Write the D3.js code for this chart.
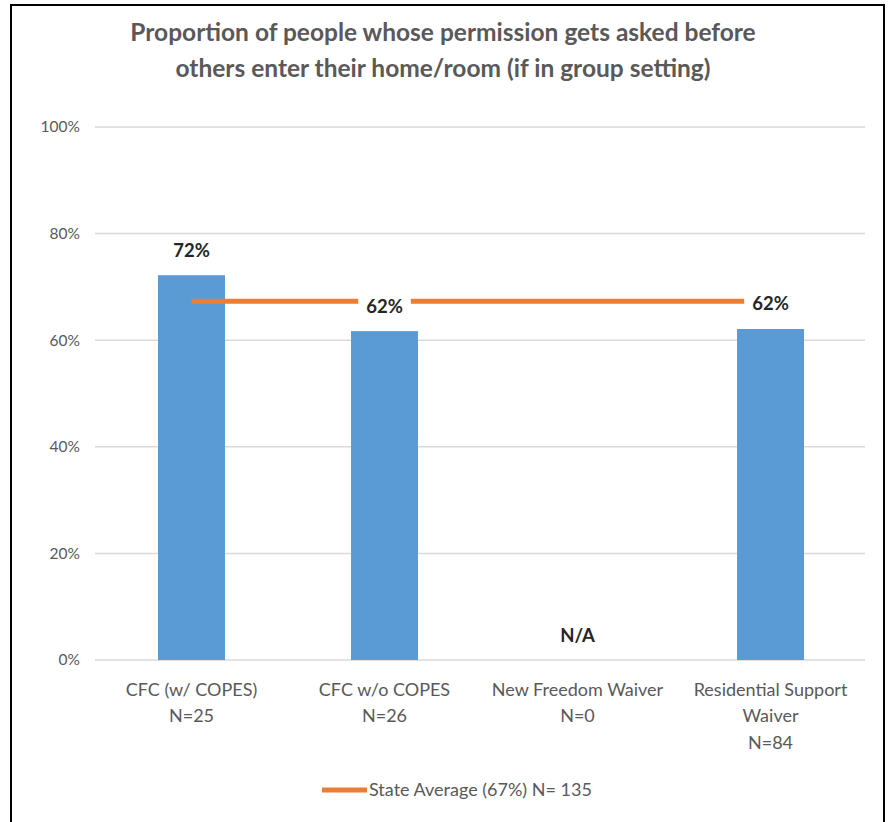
<!DOCTYPE html>
<html><head><meta charset="utf-8">
<script src="https://cdn.jsdelivr.net/npm/d3@7"></script>
<style>body{margin:0;background:#fff}svg{display:block}</style>
</head><body>
<svg id="c" width="892" height="822"></svg>
<script>
const categories = [["CFC (w/ COPES)","N=25"],["CFC w/o COPES","N=26"],["New Freedom Waiver","N=0"],["Residential Support","Waiver","N=84"]];
const values = [0.722, 0.617, null, 0.621];
const valueLabels = ["72%","62%","N/A","62%"];
const stateAverage = 0.673;
const yTicks = [0,0.2,0.4,0.6,0.8,1.0];
const titleLines = ["Proportion of people whose permission gets asked before","others enter their home/room (if in group setting)"];
const legendLabel = "State Average (67%) N= 135";

(function(){
const svg = d3.select("#c");
const font = "Lato, 'Open Sans', sans-serif";
const grey = "#595959";
svg.append("rect").attr("x",11).attr("y",5).attr("width",873).attr("height",830)
  .attr("fill","#fff").attr("stroke","#000").attr("stroke-width",2);

const pl=95, pr=867, pt=127, pb=660;
const x = d3.scaleBand().domain(d3.range(categories.length)).range([pl,pr]).paddingInner(0.653).paddingOuter(0.3265);
const y = d3.scaleLinear().domain([0,1]).range([pb,pt]);

svg.selectAll("text.title").data(titleLines).join("text")
  .attr("x",443).attr("y",(d,i)=>41+i*36).attr("text-anchor","middle")
  .attr("font-family",font).attr("font-weight","bold").attr("font-size",24.5).attr("fill",grey).text(d=>d);

const g = svg.append("g");
g.selectAll("line.grid").data(yTicks).join("line")
  .attr("x1",pl).attr("x2",865).attr("y1",d=>y(d)).attr("y2",d=>y(d))
  .attr("stroke","#D9D9D9").attr("stroke-width",1.5);
const yAxis = d3.axisLeft(y).tickValues(yTicks).tickFormat(d3.format(".0%")).tickSize(0).tickPadding(15);
const ya = svg.append("g").attr("transform",`translate(${pl},0)`).call(yAxis);
ya.select(".domain").remove();
ya.selectAll("text").attr("font-family",font).attr("font-size",15.5).attr("fill",grey);

const cx = i => x(i)+x.bandwidth()/2;
g.selectAll("rect.bar").data(values.map((v,i)=>({v,i})).filter(d=>d.v!=null)).join("rect")
  .attr("x",d=>x(d.i)).attr("width",x.bandwidth()).attr("y",d=>y(d.v)).attr("height",d=>pb-y(d.v))
  .attr("fill","#5B9BD5");

g.append("line").attr("x1",cx(0)).attr("x2",cx(3)).attr("y1",y(stateAverage)).attr("y2",y(stateAverage))
  .attr("stroke","#ED7D31").attr("stroke-width",5);

values.forEach((v,i)=>{
  const ty = v==null ? pb-24 : y(v)-25;
  const t = g.append("text").attr("x",cx(i)).attr("y",ty).attr("dy","0.35em").attr("text-anchor","middle")
    .attr("font-family",font).attr("font-weight","bold").attr("font-size",18.5).attr("fill","#262626").text(valueLabels[i]);
  const bb = t.node().getBBox();
  g.insert("rect", () => t.node()).attr("x",bb.x-8).attr("y",bb.y-2).attr("width",bb.width+16).attr("height",bb.height+4).attr("fill","#fff");
});

categories.forEach((lines,i)=>{
  svg.append("text").attr("text-anchor","middle").attr("font-family",font).attr("font-size",18).attr("fill",grey)
    .selectAll("tspan").data(lines).join("tspan").attr("x",cx(i)).attr("y",(d,j)=>695.5+j*26.5).text(d=>d);
});

svg.append("line").attr("x1",322).attr("x2",367).attr("y1",790).attr("y2",790).attr("stroke","#ED7D31").attr("stroke-width",5);
svg.append("text").attr("x",369).attr("y",796).attr("font-family",font).attr("font-size",18).attr("fill",grey).text(legendLabel);
})();
</script>
</body></html>
